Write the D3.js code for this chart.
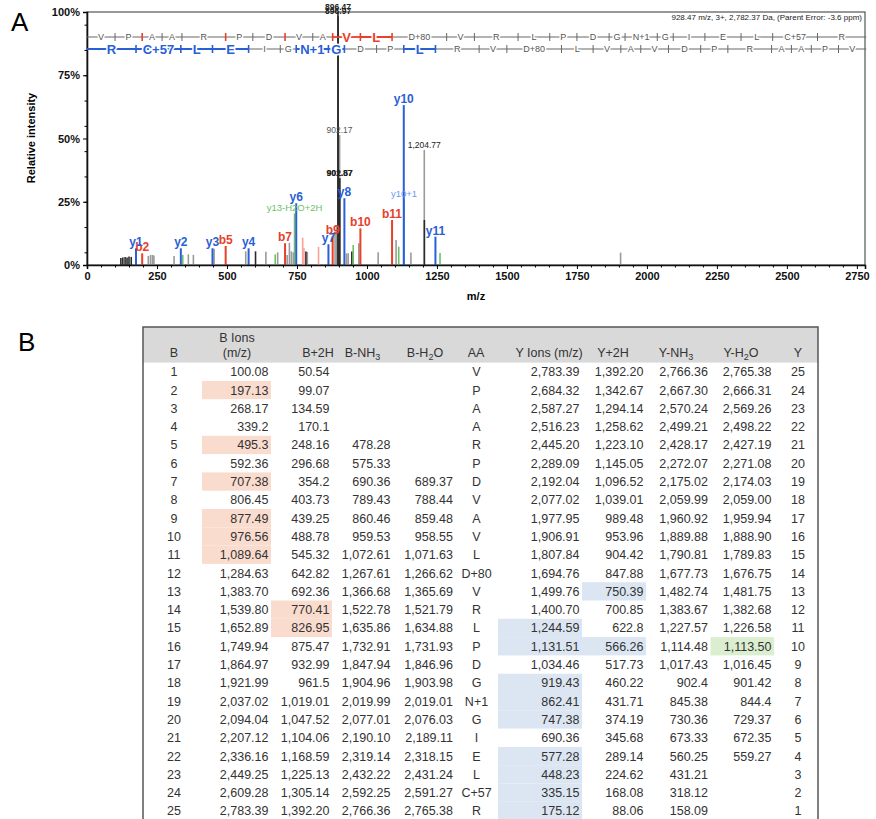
<!DOCTYPE html>
<html>
<head>
<meta charset="utf-8">
<script src="https://cdn.jsdelivr.net/npm/d3@7"></script>
<style>
  body { margin: 0; background: #fff; }
  svg { display: block; font-family: Arial, "Liberation Sans", Helvetica, sans-serif; }
</style>
</head>
<body>
<svg id="figure" width="876" height="819"></svg>
<script>
// peptide sequence, N -> C
const residues = ["V","P","A","A","R","P","D","V","A","V","L","D+80","V","R","L","P","D","G","N+1","G","I","E","L","C+57","R"];

// fragment table, one entry per row (row 1..25)
const b_ions = [100.08,197.13,268.17,339.2,495.3,592.36,707.38,806.45,877.49,976.56,1089.64,1284.63,1383.70,1539.80,1652.89,1749.94,1864.97,1921.99,2037.02,2094.04,2207.12,2336.16,2449.25,2609.28,2783.39];
const b_2h = [50.54,99.07,134.59,170.1,248.16,296.68,354.2,403.73,439.25,488.78,545.32,642.82,692.36,770.41,826.95,875.47,932.99,961.5,1019.01,1047.52,1104.06,1168.59,1225.13,1305.14,1392.20];
const b_nh3 = [null,null,null,null,478.28,575.33,690.36,789.43,860.46,959.53,1072.61,1267.61,1366.68,1522.78,1635.86,1732.91,1847.94,1904.96,2019.99,2077.01,2190.10,2319.14,2432.22,2592.25,2766.36];
const b_h2o = [null,null,null,null,null,null,689.37,788.44,859.48,958.55,1071.63,1266.62,1365.69,1521.79,1634.88,1731.93,1846.96,1903.98,2019.01,2076.03,2189.11,2318.15,2431.24,2591.27,2765.38];
const y_ions = [2783.39,2684.32,2587.27,2516.23,2445.20,2289.09,2192.04,2077.02,1977.95,1906.91,1807.84,1694.76,1499.76,1400.70,1244.59,1131.51,1034.46,919.43,862.41,747.38,690.36,577.28,448.23,335.15,175.12];
const y_2h = [1392.20,1342.67,1294.14,1258.62,1223.10,1145.05,1096.52,1039.01,989.48,953.96,904.42,847.88,750.39,700.85,622.8,566.26,517.73,460.22,431.71,374.19,345.68,289.14,224.62,168.08,88.06];
const y_nh3 = [2766.36,2667.30,2570.24,2499.21,2428.17,2272.07,2175.02,2059.99,1960.92,1889.88,1790.81,1677.73,1482.74,1383.67,1227.57,1114.48,1017.43,902.4,845.38,730.36,673.33,560.25,431.21,318.12,158.09];
const y_h2o = [2765.38,2666.31,2569.26,2498.22,2427.19,2271.08,2174.03,2059.00,1959.94,1888.90,1789.83,1676.75,1481.75,1382.68,1226.58,1113.50,1016.45,901.42,844.4,729.37,672.35,559.27,null,null,null];

// table rows whose value was matched in the spectrum
const matched_b = [2,5,7,9,10,11];
const matched_b2h = [14,15];
const matched_y = [15,16,18,19,20,22,23,24,25];
const matched_y2h = [13,16];
const matched_yh2o = [16];

// labelled b / y peaks: ion number and relative intensity (%)
const b_peak_ions = [2,5,7,9,10,11];
const b_peak_int = [4.6,7.5,8.6,11.5,14.5,17.8];
const y_peak_ions = [1,2,3,4,6,7,8,10,11];
const y_peak_int = [6.6,6.6,6.6,6.6,24.4,8.2,26.4,63.2,11.2];

// other peaks [m/z, %]
const gray_peaks = [[219,3.6],[227,4.0],[234,4.0],[239,3.8],[311,3.6],[362,4.2],[380,4.0],[454,6.4],[567,5.4],[639,5.2],[681,5.0],[715,4.0],[723,8.8],[730,5.4],[737,5.0],[787,5.2],[886,13.2],[892,15.0],[902.17,51.4],[927,4.6],[933,4.6],[971,8.6],[1040,5.0],[1104,9.9],[1157,4.9],[1204.77,45.5],[1906,4.9]];
const dark_peaks = [[121,2.8],[128,3.0],[136,3.2],[143,3.0],[150,3.4],[158,3.2],[602,5.4],[782,5.3],[896.47,100],[896.97,98.3],[901.87,34.3],[902.57,34.3],[946,5.3],[1205.1,17.8]];
const light_red_peaks = [[770.41,10.8],[775,6.6],[826.95,7.2]];
const light_blue_peaks = [[1132.51,26]];
const green_peaks = [[342,4.0],[672.35,4.2],[741.4,20.4],[951,7.9],[1113.5,7.2],[1261,4.7]];

// text labels on peaks [text, m/z, %]
const mass_labels = [["896.47",896.47,100],["896.97",896.97,98.3],["902.17",902.17,51.4],["901.87",901.87,34.3],["902.57",902.57,34.3],["1,204.77",1204.77,45.5]];
const extra_labels = [["y10+1",1132.51,26,"lightblue"],["y13-H2O+2H",741.4,20.4,"green"]];

const x_ticks = d3.range(0, 2751, 250);
const y_ticks = [0, 25, 50, 75, 100];
const header_note = "928.47 m/z, 3+, 2,782.37 Da,  (Parent Error: -3.6 ppm)";

// colors
const red = "#e8402a";
const blue = "#2a5fd6";
const green = "#6cc165";
const colors = { gray: "#9a9a9a", dark: "#2b2b2b", lightred: "#f7a399", lightblue: "#6c98f2", green: green, red: red, blue: blue };

const svg = d3.select("#figure");

// ---------------- panel A : spectrum ----------------
const xScale = d3.scaleLinear().domain([0, 2779]).range([87, 865]);
const yScale = d3.scaleLinear().domain([0, 100]).range([265, 12]);

const plot = svg.append("g");

// frame (top and right edge)
plot.append("rect")
    .attr("x", xScale(0)).attr("y", yScale(100))
    .attr("width", xScale(2779) - xScale(0))
    .attr("height", yScale(0) - yScale(100))
    .attr("fill", "none").attr("stroke", "#333").attr("stroke-width", 1);

const b_peaks = b_peak_ions.map((k, i) => [b_ions[k - 1], b_peak_int[i]]);
const y_peaks = y_peak_ions.map((k, i) => [y_ions[25 - k], y_peak_int[i]]);

function drawPeaks(list, color, width) {
    plot.append("g").selectAll("line")
        .data(list).join("line")
        .attr("x1", d => xScale(d[0])).attr("x2", d => xScale(d[0]))
        .attr("y1", yScale(0)).attr("y2", d => yScale(d[1]))
        .attr("stroke", color).attr("stroke-width", width);
}
drawPeaks(gray_peaks, colors.gray, 1.6);
drawPeaks(dark_peaks, colors.dark, 1.6);
drawPeaks(light_red_peaks, colors.lightred, 1.6);
drawPeaks(green_peaks, colors.green, 1.6);
drawPeaks(light_blue_peaks, colors.lightblue, 1.6);
drawPeaks(b_peaks, red, 2);
drawPeaks(y_peaks, blue, 2);

// ion labels
const ion_labels = b_peak_ions.map((k, i) => ["b" + k, b_peaks[i], red])
    .concat(y_peak_ions.map((k, i) => ["y" + k, y_peaks[i], blue]));

plot.append("g").selectAll("text")
    .data(ion_labels).join("text")
    .attr("x", d => xScale(d[1][0]))
    .attr("y", d => yScale(d[1][1]) - 2)
    .attr("text-anchor", "middle")
    .attr("font-size", 12).attr("font-weight", "bold")
    .attr("fill", d => d[2])
    .text(d => d[0]);

plot.append("g").selectAll("text")
    .data(extra_labels).join("text")
    .attr("x", d => xScale(d[1]))
    .attr("y", d => yScale(d[2]) - 2)
    .attr("text-anchor", "middle")
    .attr("font-size", 9.5)
    .attr("fill", d => colors[d[3]])
    .text(d => d[0]);

plot.append("g").selectAll("text")
    .data(mass_labels).join("text")
    .attr("x", d => xScale(d[1]))
    .attr("y", d => yScale(d[2]) - 2)
    .attr("text-anchor", "middle")
    .attr("font-size", 8.5)
    .attr("font-weight", d => d[2] > 90 || d[2] < 40 ? "bold" : "normal")
    .attr("fill", d => d[2] > 50 && d[2] < 60 ? "#555" : "#222")
    .text(d => d[0]);

// axes
const xAxis = plot.append("g")
    .attr("transform", `translate(0,${yScale(0)})`)
    .call(d3.axisBottom(xScale).tickValues(x_ticks).tickSize(4).tickPadding(3).tickFormat(d3.format("d")));
plot.append("g")
    .attr("transform", `translate(0,${yScale(0)})`)
    .call(d3.axisBottom(xScale).tickValues(d3.range(50, 2779, 50).filter(d => d % 250 !== 0)).tickSize(2.5).tickFormat(""))
    .call(g => g.select(".domain").remove());

const yAxis = plot.append("g")
    .attr("transform", `translate(${xScale(0)},0)`)
    .call(d3.axisLeft(yScale).tickValues(y_ticks).tickSize(4).tickPadding(3).tickFormat(d => d + "%"));
plot.append("g")
    .attr("transform", `translate(${xScale(0)},0)`)
    .call(d3.axisLeft(yScale).tickValues(d3.range(5, 100, 10)).tickSize(2.5).tickFormat(""))
    .call(g => g.select(".domain").remove());

[xAxis, yAxis].forEach(a => {
    a.select(".domain").attr("stroke", "#111").attr("stroke-width", 1.6);
    a.selectAll("text").attr("font-size", 11).attr("font-weight", "bold").attr("fill", "#111")
        .attr("font-family", "Arial, 'Liberation Sans', sans-serif");
});

plot.append("text")
    .attr("x", 476).attr("y", 300)
    .attr("text-anchor", "middle").attr("font-size", 11).attr("font-weight", "bold")
    .text("m/z");

plot.append("text")
    .attr("transform", "translate(35,138) rotate(-90)")
    .attr("text-anchor", "middle").attr("font-size", 11).attr("font-weight", "bold")
    .text("Relative intensity");

plot.append("text")
    .attr("x", 862).attr("y", 20)
    .attr("text-anchor", "end").attr("font-size", 8).attr("fill", "#222")
    .text(header_note);

// sequence coverage rows
function drawSequence(row_y, bounds, letters, matched, color) {
    const g = plot.append("g");
    const segs = letters.map((aa, i) => ({
        aa: aa,
        from: bounds[i],
        to: bounds[i + 1],
        hit: (i === 0 || matched.includes(i)) && matched.includes(i + 1)
    }));
    g.selectAll("line.seg").data(segs).join("line")
        .attr("x1", d => xScale(d.from)).attr("x2", d => xScale(d.to))
        .attr("y1", row_y).attr("y2", row_y)
        .attr("stroke", d => d.hit ? color : "#666")
        .attr("stroke-width", d => d.hit ? 1.8 : 1);
    g.selectAll("line.tick").data(bounds.slice(1, -1)).join("line")
        .attr("x1", d => xScale(d)).attr("x2", d => xScale(d))
        .attr("y1", row_y - 4).attr("y2", row_y + 4)
        .attr("stroke", (d, i) => matched.includes(i + 1) ? color : "#666")
        .attr("stroke-width", (d, i) => matched.includes(i + 1) ? 1.6 : 1);
    g.selectAll("text").data(segs).join("text")
        .attr("x", d => (xScale(d.from) + xScale(d.to)) / 2)
        .attr("y", d => row_y + (d.hit ? 4.5 : 3.2))
        .attr("text-anchor", "middle")
        .attr("font-size", d => d.hit ? 13 : 9)
        .attr("font-weight", d => d.hit ? "bold" : "normal")
        .attr("fill", d => d.hit ? color : "#555")
        .attr("stroke", "#fff").attr("stroke-width", 3).attr("paint-order", "stroke")
        .text(d => d.aa);
}

drawSequence(37, [0].concat(b_ions), residues, matched_b, red);
drawSequence(49, [0].concat(y_ions.slice().reverse()), residues.slice().reverse(),
    matched_y.map(r => 26 - r), blue);

// panel letters
svg.append("text").attr("x", 11).attr("y", 31).attr("font-size", 26).text("A");
svg.append("text").attr("x", 18).attr("y", 351).attr("font-size", 26).text("B");

// ---------------- panel B : fragment table ----------------
const row_ids = d3.range(1, 26);
const rowScale = d3.scaleBand().domain(row_ids).range([362.6, 820.1]);
const table = svg.append("g").attr("font-size", 12.5).attr("fill", "#333");

const peach = "#fadccf";
const light_blue = "#dbe6f2";
const light_green = "#dbeed0";

const fmt = v => v == null ? "" : (v >= 1000 ? d3.format(",.2f")(v) : String(v));

const table_cols = [
    { vals: row_ids, x0: 143, x1: 205, anchor: "middle", tx: 174, fmt: String },
    { vals: b_ions, x0: 202, x1: 271, hl: matched_b, fill: peach },
    { vals: b_2h, x0: 271, x1: 332, hl: matched_b2h, fill: peach },
    { vals: b_nh3, x0: 332, x1: 393 },
    { vals: b_h2o, x0: 393, x1: 455.5 },
    { vals: residues, x0: 455, x1: 498, anchor: "middle", tx: 476.5, fmt: String },
    { vals: y_ions, x0: 498, x1: 582, hl: matched_y, fill: light_blue },
    { vals: y_2h, x0: 582, x1: 646, hl: matched_y2h, fill: light_blue },
    { vals: y_nh3, x0: 646, x1: 710.5 },
    { vals: y_h2o, x0: 710.5, x1: 774, hl: matched_yh2o, fill: light_green },
    { vals: row_ids.map(r => 26 - r), x0: 774, x1: 818, anchor: "middle", tx: 798, fmt: String }
];

// header band
table.append("rect")
    .attr("x", 143).attr("y", 327).attr("width", 675).attr("height", rowScale(1) - 327)
    .attr("fill", "#d9d9d9");

// highlighted cells
table_cols.filter(c => c.hl).forEach(c => {
    table.append("g").selectAll("rect")
        .data(c.hl).join("rect")
        .attr("x", c.x0).attr("width", c.x1 - c.x0)
        .attr("y", r => rowScale(r)).attr("height", rowScale.bandwidth())
        .attr("fill", c.fill);
});

// cell values
table_cols.forEach(c => {
    const anchor = c.anchor || "end";
    const tx = c.tx != null ? c.tx : c.x1 - 2.5;
    const f = c.fmt || fmt;
    table.append("g").selectAll("text")
        .data(c.vals.map((v, i) => [row_ids[i], v])).join("text")
        .attr("x", tx)
        .attr("y", d => rowScale(d[0]) + rowScale.bandwidth() / 2 + 4.5)
        .attr("text-anchor", anchor)
        .text(d => f(d[1]));
});

// header texts, parts are [text, subscript?]
const headers = [
    { cx: 237, y: 342, parts: [["B Ions"]] },
    { cx: 237, y: 357, parts: [["(m/z)"]] },
    { cx: 174, y: 357, parts: [["B"]] },
    { cx: 318, y: 357, parts: [["B+2H"]] },
    { cx: 362.5, y: 357, parts: [["B-NH"], ["3", true]] },
    { cx: 425, y: 357, parts: [["B-H"], ["2", true], ["O"]] },
    { cx: 476, y: 357, parts: [["AA"]] },
    { cx: 549, y: 357, parts: [["Y Ions (m/z)"]] },
    { cx: 613, y: 357, parts: [["Y+2H"]] },
    { cx: 676, y: 357, parts: [["Y-NH"], ["3", true]] },
    { cx: 741, y: 357, parts: [["Y-H"], ["2", true], ["O"]] },
    { cx: 798, y: 357, parts: [["Y"]] }
];
headers.forEach(h => {
    const t = table.append("text").attr("x", h.cx).attr("y", h.y).attr("text-anchor", "middle");
    let shifted = false;
    h.parts.forEach(p => {
        const s = t.append("tspan").text(p[0]);
        if (p[1]) { s.attr("font-size", 9).attr("dy", 3); shifted = true; }
        else if (shifted) { s.attr("dy", -3); shifted = false; }
    });
});

// table border (left, top, right)
table.append("path")
    .attr("d", "M143,822V327H818V822")
    .attr("fill", "none").attr("stroke", "#555").attr("stroke-width", 1.5);
</script>
</body>
</html>
